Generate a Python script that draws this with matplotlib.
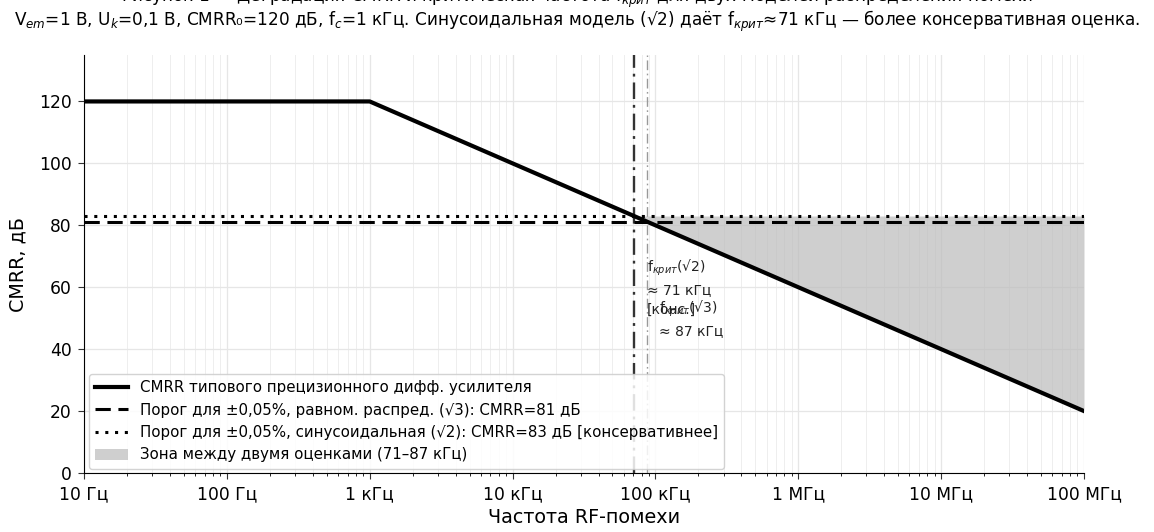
import numpy as np
import matplotlib
matplotlib.use("Agg")
import matplotlib.pyplot as plt
from matplotlib.ticker import FixedLocator, LogLocator, NullFormatter

# ---- data ----
freq_pts = [10, 1e3, 1e8]          # Hz, breakpoints of CMRR curve
cmrr_pts = [120, 120, 20]          # dB
thr_uniform = 81.2                 # dB, (√3) model
thr_sine = 83.0                    # dB, (√2) model
f_crit_sine = 71e3                 # Hz
f_crit_uniform = 87e3              # Hz
xtick_vals = [10, 1e2, 1e3, 1e4, 1e5, 1e6, 1e7, 1e8]
xtick_labels = ["10 Гц", "100 Гц", "1 кГц", "10 кГц", "100 кГц", "1 МГц", "10 МГц", "100 МГц"]
ytick_vals = [0, 20, 40, 60, 80, 100, 120]

plt.rcParams['font.family'] = ['DejaVu Sans']

fig = plt.figure(figsize=(11.54, 5.32), dpi=100)
ax = fig.add_axes([84/1154, 1-473/532, 1000/1154, (473-55)/532])

ax.plot(freq_pts, cmrr_pts, color='black', lw=3,
        label='CMRR типового прецизионного дифф. усилителя', zorder=5)
ax.axhline(thr_uniform, color='black', ls=(0, (5, 2.5)), lw=2.2,
           label='Порог для ±0,05%, равном. распред. (√3): CMRR=81 дБ', zorder=4)
ax.axhline(thr_sine, color='black', ls=(0, (1, 2.2)), lw=2.2,
           label='Порог для ±0,05%, синусоидальная (√2): CMRR=83 дБ [консервативнее]', zorder=4)

# shaded zone: between curve and sine threshold where curve is below it
logf = np.log10(freq_pts)
fz = np.array([f_crit_sine, freq_pts[-1]])
cz = np.interp(np.log10(fz), logf, cmrr_pts)
ax.fill_between(fz, cz, thr_sine, color='#bdbdbd', alpha=0.72, lw=0,
                label='Зона между двумя оценками (71–87 кГц)', zorder=2)

ax.axvline(f_crit_sine, color='#333333', ls=(0, (7, 2.5, 1.2, 2.5)), lw=1.7, zorder=3)
ax.axvline(f_crit_uniform, color='#999999', ls=(0, (7, 2.5, 1.2, 2.5)), lw=1.0, zorder=3)

ax.text(f_crit_sine * 1.22, 60, 'f$_{крит}$(√2)\n≈ 71 кГц\n[конс.]', ha='left', va='center',
        fontsize=10, linespacing=1.5, color='#222222', zorder=6)
ax.text(f_crit_uniform * 1.22, 50, 'f$_{крит}$(√3)\n≈ 87 кГц', ha='left', va='center',
        fontsize=10, linespacing=1.5, color='#222222', zorder=6)

ax.set_xscale('log')
ax.set_xlim(freq_pts[0], freq_pts[-1])
ax.set_ylim(0, 135)
ax.xaxis.set_major_locator(FixedLocator(xtick_vals))
ax.set_xticks(xtick_vals)
ax.set_xticklabels(xtick_labels)
ax.xaxis.set_minor_locator(LogLocator(base=10, subs=np.arange(2, 10), numticks=20))
ax.xaxis.set_minor_formatter(NullFormatter())
ax.set_yticks(ytick_vals)
ax.tick_params(axis='both', which='major', labelsize=12.3, color='#333333', length=4.5, pad=4.5)
ax.grid(True, which='major', color='#e6e6e6', lw=0.9)
ax.grid(True, which='minor', axis='x', color='#eeeeee', lw=0.7)
ax.set_axisbelow(True)
for s in ['top', 'right']:
    ax.spines[s].set_visible(False)
ax.set_xlabel('Частота RF-помехи', fontsize=13.8, labelpad=3)
ax.set_ylabel('CMRR, дБ', fontsize=13.8, labelpad=8)

ax.legend(loc='lower left', fontsize=10.8, framealpha=0.85, edgecolor='#cccccc',
          handlelength=2.2, borderaxespad=0.3)

fig.text(0.5, 1+2/532, 'Рисунок 1 — Деградация CMRR и критическая частота f$_{крит}$ для двух моделей распределения помехи',
         ha='center', va='center', fontsize=12.2)
fig.text(0.5, 1-21/532, 'V$_{em}$=1 В, U$_k$=0,1 В, CMRR₀=120 дБ, f$_c$=1 кГц. Синусоидальная модель (√2) даёт f$_{крит}$≈71 кГц — более консервативная оценка.',
         ha='center', va='center', fontsize=12.2)

fig.savefig('out.png', dpi=100)
